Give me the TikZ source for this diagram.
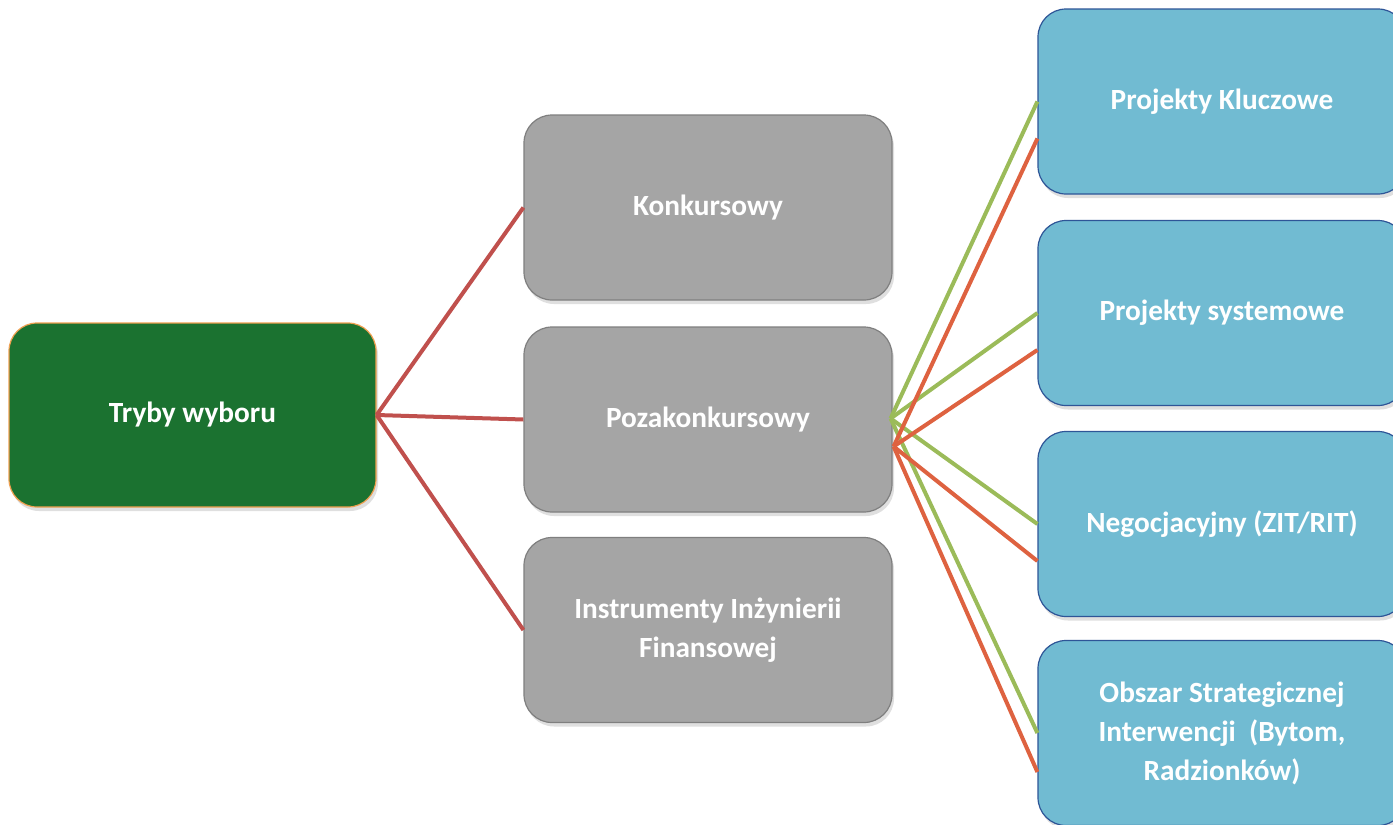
\documentclass[tikz,border=0pt]{standalone}
\usepackage{fontspec}
\setmainfont{Carlito}
\usetikzlibrary{shadows,calc}
\definecolor{boxgreen}{HTML}{1B7230}
\definecolor{boxorange}{HTML}{F0A050}
\definecolor{boxgray}{HTML}{A5A5A5}
\definecolor{graybord}{HTML}{7F7F7F}
\definecolor{boxblue}{HTML}{71BBD2}
\definecolor{bluebord}{HTML}{2E5597}
\definecolor{linered}{HTML}{C0504D}
\definecolor{lineorange}{HTML}{DE6240}
\definecolor{linegreen}{HTML}{9BBB59}
\tikzset{
  basebox/.style={rounded corners=28pt, minimum width=368pt, minimum height=185pt,
    align=center, text=white, line width=1.2pt,
    font=\fontsize{29.3}{39}\selectfont\bfseries,
    drop shadow={opacity=0.25, shadow xshift=2pt, shadow yshift=-4pt}},
  rootbox/.style={basebox, fill=boxgreen, draw=boxorange, minimum width=367pt, minimum height=184pt},
  midbox/.style={basebox, fill=boxgray, draw=graybord},
  leafbox/.style={basebox, fill=boxblue, draw=bluebord},
  redline/.style={draw=linered, line width=4pt},
  orline/.style={draw=lineorange, line width=4pt},
  grline/.style={draw=linegreen, line width=4pt},
}
\begin{document}
\begin{tikzpicture}[x=1pt,y=-1pt]
\clip (0,0) rectangle (1393,825);
\fill[white] (0,0) rectangle (1393,825);
\node[rootbox] (tryby) at (192.5,415) {Tryby wyboru};
\node[midbox] (konk) at (708,207.5) {Konkursowy};
\node[midbox] (poza) at (708,419.5) {Pozakonkursowy};
\node[midbox] (instr) at (708,630) {Instrumenty Inżynierii\\Finansowej};
\node[leafbox] (pk) at (1222,101.5) {Projekty Kluczowe};
\node[leafbox] (ps) at (1222,313) {Projekty systemowe};
\node[leafbox] (neg) at (1222,524) {Negocjacyjny (ZIT/RIT)};
\node[leafbox] (obs) at (1222,733) {Obszar Strategicznej\\Interwencji~~(Bytom,\\Radzionków)};
\draw[redline] (tryby.east) -- (konk.west);
\draw[redline] (tryby.east) -- (poza.west);
\draw[redline] (tryby.east) -- (instr.west);
\coordinate (gsrc) at ($(poza.east)+(-2,-1)$);
\coordinate (rsrc) at ($(poza.east)+(1,27)$);
\draw[grline] (gsrc) -- (pk.west);
\draw[grline] (gsrc) -- (ps.west);
\draw[grline] (gsrc) -- (neg.west);
\draw[grline] (gsrc) -- (obs.west);
\draw[orline] (rsrc) -- ($(pk.west)+(0,37)$);
\draw[orline] (rsrc) -- ($(ps.west)+(0,37)$);
\draw[orline] (rsrc) -- ($(neg.west)+(0,37)$);
\draw[orline] (rsrc) -- ($(obs.west)+(0,39)$);
\end{tikzpicture}
\end{document}
